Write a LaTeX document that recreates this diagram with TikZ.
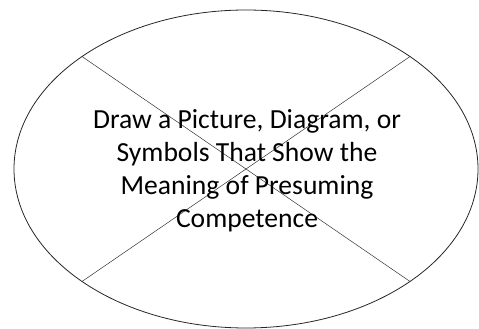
\documentclass[tikz,border=0pt]{standalone}
\usepackage{fontspec}
\setmainfont{Carlito}
\usetikzlibrary{shapes.geometric}
\tikzset{
  oval/.style={draw=black!85, line width=0.8pt, ellipse, inner sep=0pt, minimum width=464pt, minimum height=318pt},
  divider/.style={draw=black!80, line width=0.5pt},
  label/.style={align=center, font=\fontsize{27.6}{33}\selectfont, inner sep=0pt, text=black}
}
\begin{document}
\begin{tikzpicture}[x=1pt,y=1pt]
\useasboundingbox (0,0) rectangle (479,329);
\node[oval] (e) at (246,160) {};
\draw[divider] (e.north west) -- (e.south east);
\draw[divider] (e.north east) -- (e.south west);
\node[label, anchor=base] (t) at (247,101) {Draw a Picture, Diagram, or\\Symbols That Show the\\Meaning of Presuming\\Competence};
\end{tikzpicture}
\end{document}
